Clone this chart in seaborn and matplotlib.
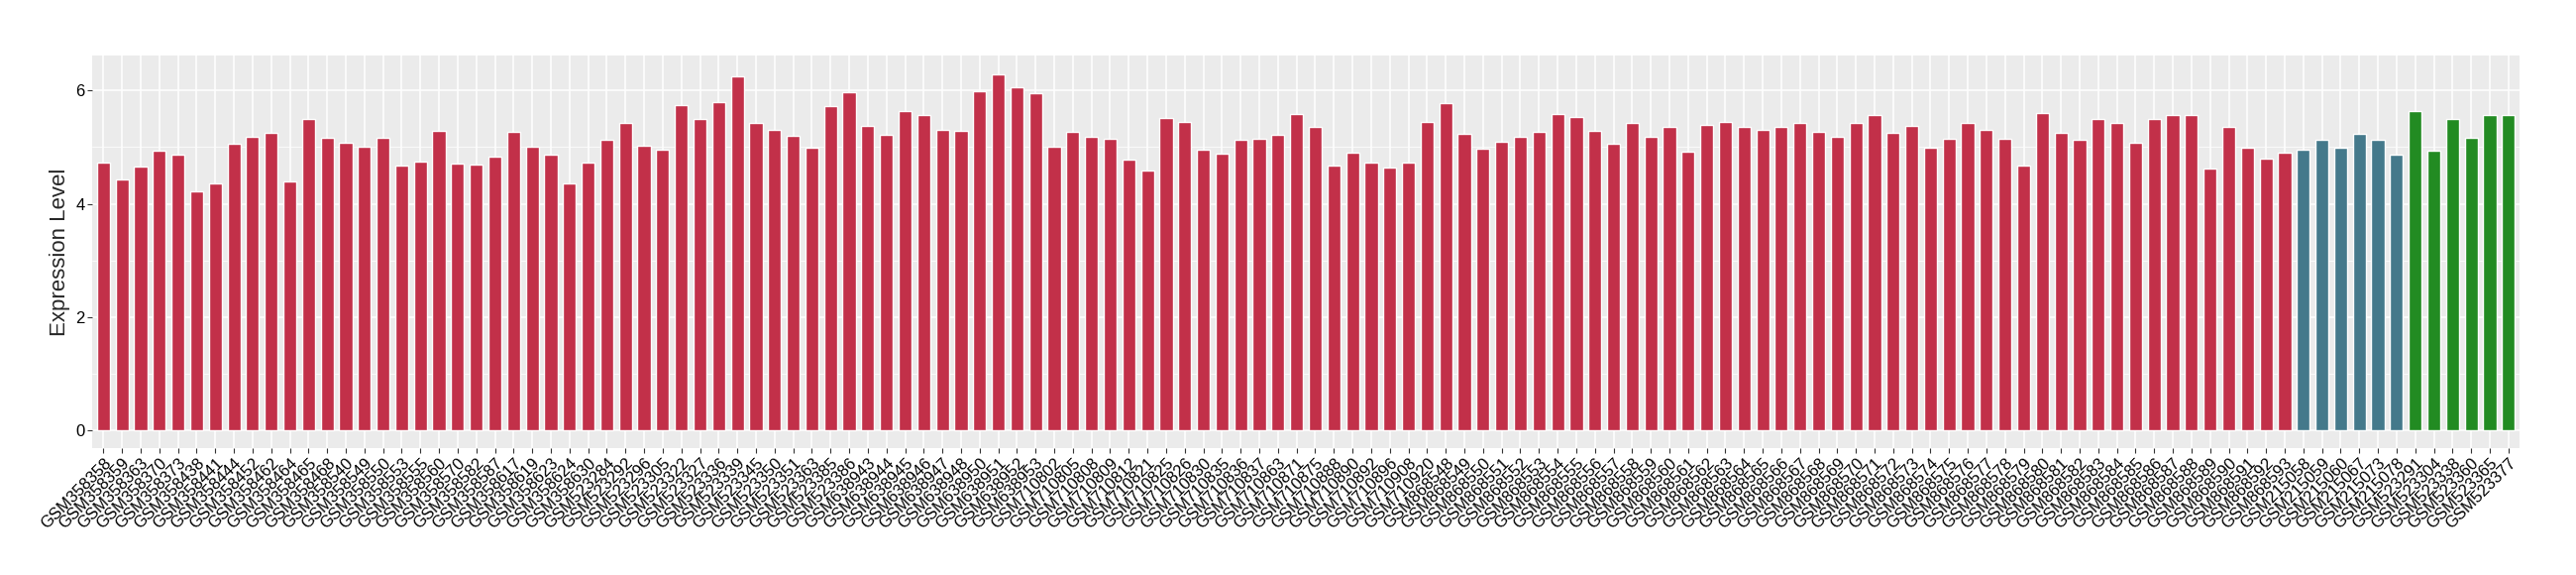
import numpy as np
import pandas as pd
import matplotlib
matplotlib.use("Agg")
import matplotlib.pyplot as plt
import seaborn as sns
from matplotlib.ticker import MultipleLocator

# sample ids
samples_a = ["GSM358358", "GSM358359", "GSM358363", "GSM358370", "GSM358373", "GSM358438",
             "GSM358441", "GSM358444", "GSM358452", "GSM358462", "GSM358464", "GSM358465",
             "GSM358468", "GSM358540", "GSM358549", "GSM358550", "GSM358553", "GSM358555",
             "GSM358560", "GSM358570", "GSM358582", "GSM358587", "GSM358617", "GSM358619",
             "GSM358623", "GSM358624", "GSM358630",
             "GSM523284", "GSM523292", "GSM523296", "GSM523305", "GSM523322", "GSM523327",
             "GSM523336", "GSM523339", "GSM523345", "GSM523350", "GSM523351", "GSM523363",
             "GSM523385", "GSM523386",
             "GSM638943", "GSM638944", "GSM638945", "GSM638946", "GSM638947", "GSM638948",
             "GSM638950", "GSM638951", "GSM638952", "GSM638953",
             "GSM710802", "GSM710805", "GSM710808", "GSM710809", "GSM710812", "GSM710821",
             "GSM710825", "GSM710826", "GSM710830", "GSM710835", "GSM710836", "GSM710837",
             "GSM710863", "GSM710871", "GSM710875", "GSM710888", "GSM710890", "GSM710892",
             "GSM710896", "GSM710908", "GSM710920"] + \
            ["GSM8685%02d" % n for n in range(48, 94)]
samples_b = ["GSM215058", "GSM215059", "GSM215060", "GSM215067", "GSM215073", "GSM215078"]
samples_c = ["GSM523291", "GSM523304", "GSM523338", "GSM523360", "GSM523365", "GSM523377"]

values_a = [4.73, 4.43, 4.66, 4.94, 4.87, 4.22, 4.36, 5.06, 5.19, 5.26,
            4.40, 5.50, 5.17, 5.08, 5.01, 5.17, 4.68, 4.75, 5.29, 4.71,
            4.70, 4.84, 5.27, 5.01, 4.87, 4.36, 4.73,
            5.13, 5.43, 5.03, 4.96, 5.75, 5.49, 5.80, 6.26, 5.43, 5.31,
            5.20, 4.99, 5.73, 5.98,
            5.38, 5.22, 5.64, 5.57, 5.31, 5.29, 5.99, 6.29, 6.06, 5.96,
            5.01, 5.27, 5.19, 5.15, 4.78, 4.59, 5.52, 5.45, 4.96, 4.89,
            5.13, 5.15, 5.22, 5.59, 5.36, 4.68, 4.91, 4.73, 4.64, 4.73, 5.45,
            5.78, 5.24, 4.98, 5.10, 5.19, 5.27,
            5.59, 5.54, 5.29, 5.06, 5.43, 5.19, 5.35, 4.92, 5.40, 5.45,
            5.36, 5.31, 5.35, 5.43, 5.27, 5.19, 5.43, 5.56, 5.26, 5.38,
            4.99, 5.15, 5.42, 5.31, 5.15, 4.68,
            5.61, 5.26, 5.13, 5.49, 5.43, 5.08, 5.49, 5.56, 5.57, 4.63,
            5.36, 4.99, 4.80, 4.91]
values_b = [4.96, 5.13, 4.99, 5.24, 5.13, 4.87]
values_c = [5.63, 4.94, 5.50, 5.17, 5.56, 5.56]

group_colors = {"A": "#C23049", "B": "#44798B", "C": "#228B22"}

df = pd.DataFrame({
    "sample": samples_a + samples_b + samples_c,
    "value": values_a + values_b + values_c,
    "group": ["A"] * len(samples_a) + ["B"] * len(samples_b) + ["C"] * len(samples_c),
})

sns.set_theme(style="darkgrid")
plt.rcParams["font.family"] = ["Liberation Sans", "DejaVu Sans"]

fig = plt.figure(figsize=(26, 5.8), dpi=100)
ax = fig.add_axes([0.0358, 0.221, 0.9423, 0.682])

sns.barplot(data=df, x="sample", y="value", hue="group", palette=group_colors,
            dodge=False, width=0.7, legend=False, saturation=1, ax=ax)

n = len(df)
ax.set_xlim(-0.6, n - 1 + 0.6)
ax.set_ylim(-0.315, 6.615)
ax.set_facecolor("#EBEBEB")
ax.yaxis.set_major_locator(MultipleLocator(2))
ax.yaxis.set_minor_locator(MultipleLocator(1))
ax.grid(which="major", color="white", linewidth=1.1)
ax.grid(which="minor", axis="y", color="white", linewidth=0.55)
ax.set_axisbelow(True)
for s in ax.spines.values():
    s.set_visible(False)

ax.tick_params(axis="both", which="major", length=3.5, width=0.8, color="#333333",
               labelsize=12, labelcolor="black", pad=2, bottom=True, left=True)
ax.tick_params(axis="y", which="minor", length=0)
plt.setp(ax.get_xticklabels(), rotation=45, ha="right", va="top", rotation_mode="anchor")

ax.set_xlabel("")
ax.set_ylabel("Expression Level", fontsize=16, labelpad=4)

fig.savefig("out.png", dpi=100)
